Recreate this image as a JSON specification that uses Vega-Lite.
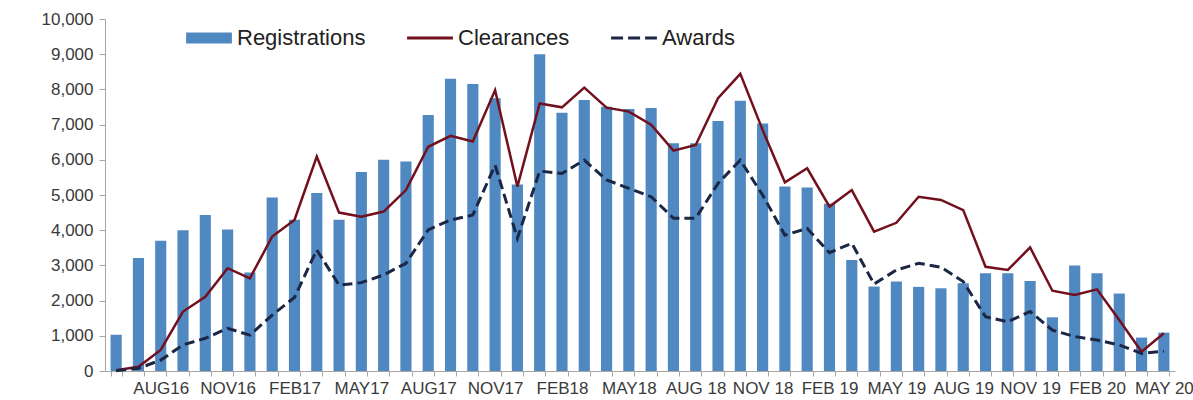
{
  "$schema": "https://vega.github.io/schema/vega-lite/v6.json",
  "autosize": {"type": "none"},
  "width": 1070,
  "height": 352,
  "padding": {"left": 105, "top": 19, "right": 18, "bottom": 29},
  "background": "white",
  "config": {
    "view": {"stroke": null},
    "font": "Liberation Sans",
    "axis": {"labelFont": "Liberation Sans", "labelFontSize": 17, "labelColor": "#3a3a3a", "domainColor": "#a6a6a6", "tickColor": "#a6a6a6", "grid": false, "title": null, "labelOverlap": false}
  },
  "data": {"values": [
    {"month": "JUN16", "Registrations": 1030, "Clearances": 20, "Awards": 10},
    {"month": "JUL16", "Registrations": 3210, "Clearances": 120, "Awards": 75},
    {"month": "AUG16", "Registrations": 3700, "Clearances": 600, "Awards": 310},
    {"month": "SEP16", "Registrations": 4000, "Clearances": 1690, "Awards": 740},
    {"month": "OCT16", "Registrations": 4430, "Clearances": 2110, "Awards": 930},
    {"month": "NOV16", "Registrations": 4020, "Clearances": 2920, "Awards": 1210},
    {"month": "DEC16", "Registrations": 2800, "Clearances": 2630, "Awards": 1020},
    {"month": "JAN17", "Registrations": 4930, "Clearances": 3820, "Awards": 1590},
    {"month": "FEB17", "Registrations": 4300, "Clearances": 4290, "Awards": 2090},
    {"month": "MAR17", "Registrations": 5060, "Clearances": 6090, "Awards": 3440},
    {"month": "APR17", "Registrations": 4300, "Clearances": 4500, "Awards": 2440},
    {"month": "MAY17", "Registrations": 5650, "Clearances": 4380, "Awards": 2510},
    {"month": "JUN17", "Registrations": 6000, "Clearances": 4530, "Awards": 2730},
    {"month": "JUL17", "Registrations": 5950, "Clearances": 5140, "Awards": 3060},
    {"month": "AUG17", "Registrations": 7270, "Clearances": 6370, "Awards": 4010},
    {"month": "SEP17", "Registrations": 8300, "Clearances": 6680, "Awards": 4290},
    {"month": "OCT17", "Registrations": 8150, "Clearances": 6520, "Awards": 4430},
    {"month": "NOV17", "Registrations": 7750, "Clearances": 7980, "Awards": 5850},
    {"month": "DEC17", "Registrations": 5300, "Clearances": 5240, "Awards": 3770},
    {"month": "JAN18", "Registrations": 9000, "Clearances": 7600, "Awards": 5680},
    {"month": "FEB18", "Registrations": 7340, "Clearances": 7490, "Awards": 5610},
    {"month": "MAR18", "Registrations": 7700, "Clearances": 8050, "Awards": 5990},
    {"month": "APR18", "Registrations": 7510, "Clearances": 7480, "Awards": 5430},
    {"month": "MAY18", "Registrations": 7440, "Clearances": 7370, "Awards": 5190},
    {"month": "JUN18", "Registrations": 7470, "Clearances": 7000, "Awards": 4950},
    {"month": "JUL18", "Registrations": 6470, "Clearances": 6260, "Awards": 4340},
    {"month": "AUG 18", "Registrations": 6470, "Clearances": 6420, "Awards": 4340},
    {"month": "SEP 18", "Registrations": 7100, "Clearances": 7750, "Awards": 5330},
    {"month": "OCT 18", "Registrations": 7680, "Clearances": 8440, "Awards": 5990},
    {"month": "NOV 18", "Registrations": 7030, "Clearances": 6850, "Awards": 5000},
    {"month": "DEC 18", "Registrations": 5240, "Clearances": 5360, "Awards": 3860},
    {"month": "JAN 19", "Registrations": 5210, "Clearances": 5760, "Awards": 4050},
    {"month": "FEB 19", "Registrations": 4750, "Clearances": 4670, "Awards": 3360},
    {"month": "MAR 19", "Registrations": 3150, "Clearances": 5140, "Awards": 3630},
    {"month": "APR 19", "Registrations": 2400, "Clearances": 3960, "Awards": 2470},
    {"month": "MAY 19", "Registrations": 2540, "Clearances": 4210, "Awards": 2870},
    {"month": "JUN 19", "Registrations": 2390, "Clearances": 4950, "Awards": 3060},
    {"month": "JUL 19", "Registrations": 2350, "Clearances": 4860, "Awards": 2950},
    {"month": "AUG 19", "Registrations": 2490, "Clearances": 4570, "Awards": 2540},
    {"month": "SEP 19", "Registrations": 2775, "Clearances": 2960, "Awards": 1540},
    {"month": "OCT 19", "Registrations": 2775, "Clearances": 2870, "Awards": 1400},
    {"month": "NOV 19", "Registrations": 2560, "Clearances": 3510, "Awards": 1690},
    {"month": "DEC 19", "Registrations": 1525, "Clearances": 2280, "Awards": 1160},
    {"month": "JAN 20", "Registrations": 3000, "Clearances": 2160, "Awards": 980},
    {"month": "FEB 20", "Registrations": 2775, "Clearances": 2320, "Awards": 880},
    {"month": "MAR 20", "Registrations": 2200, "Clearances": 1450, "Awards": 740},
    {"month": "APR 20", "Registrations": 950, "Clearances": 550, "Awards": 500},
    {"month": "MAY 20", "Registrations": 1090, "Clearances": 1070, "Awards": 560}
  ]},
  "encoding": {
    "x": {
      "field": "month", "type": "nominal", "sort": null,
      "scale": {"paddingInner": 0.5, "paddingOuter": 0.25},
      "axis": {
        "labelAngle": 0, "tickBand": "extent",
        "tickSize": 5, "labelPadding": 4,
        "labelExpr": "test(/^(AUG|NOV|FEB|MAY)/, datum.value) ? datum.value : ''"
      }
    }
  },
  "layer": [
    {
      "mark": {"type": "bar", "color": "#5088c2"},
      "encoding": {
        "y": {"field": "Registrations", "type": "quantitative",
          "scale": {"domain": [0, 10000], "nice": false},
          "axis": {"values": [0,1000,2000,3000,4000,5000,6000,7000,8000,9000,10000], "format": ",d", "tickSize": 6, "labelPadding": 6, "labelOverlap": false}},
        "color": {"datum": "Registrations", "type": "nominal",
          "scale": {"domain": ["Registrations", "Clearances", "Awards"], "range": ["#5088c2", "#72101d", "#1b2744"]},
          "legend": {
            "title": null, "orient": "none", "legendX": 93, "legendY": 8, "direction": "horizontal",
            "symbolType": "stroke", "symbolSize": 2100, "labelFontSize": 22, "labelColor": "#222222",
            "labelFont": "Liberation Sans", "labelOffset": 17, "columnPadding": 35,
            "encode": {"symbols": {"update": {
              "shape": {"signal": "datum.value == 'Registrations' ? 'M-1,-0.24H1V0.24H-1Z' : 'M-1,-0.175M-1,0H1'"},
              "fill": {"signal": "datum.value == 'Registrations' ? '#5088c2' : 'transparent'"},
              "stroke": {"signal": "datum.value == 'Registrations' ? 'transparent' : datum.value == 'Clearances' ? '#72101d' : '#1b2744'"},
              "strokeWidth": {"signal": "datum.value == 'Registrations' ? 0 : 3"},
              "strokeDash": {"signal": "datum.value == 'Awards' ? [12, 5] : [1, 0]"},
              "opacity": {"value": 1},
              "fillOpacity": {"value": 1}
            }}}
          }}
      }
    },
    {
      "mark": {"type": "line", "strokeWidth": 2.5},
      "encoding": {
        "y": {"field": "Clearances", "type": "quantitative",
          "axis": {"values": [0,1000,2000,3000,4000,5000,6000,7000,8000,9000,10000], "format": ",d", "tickSize": 6, "labelPadding": 6, "labelOverlap": false}},
        "color": {"datum": "Clearances", "type": "nominal"}
      }
    },
    {
      "mark": {"type": "line", "strokeWidth": 3, "strokeDash": [10, 5]},
      "encoding": {
        "y": {"field": "Awards", "type": "quantitative",
          "axis": {"values": [0,1000,2000,3000,4000,5000,6000,7000,8000,9000,10000], "format": ",d", "tickSize": 6, "labelPadding": 6, "labelOverlap": false}},
        "color": {"datum": "Awards", "type": "nominal"}
      }
    }
  ]
}
